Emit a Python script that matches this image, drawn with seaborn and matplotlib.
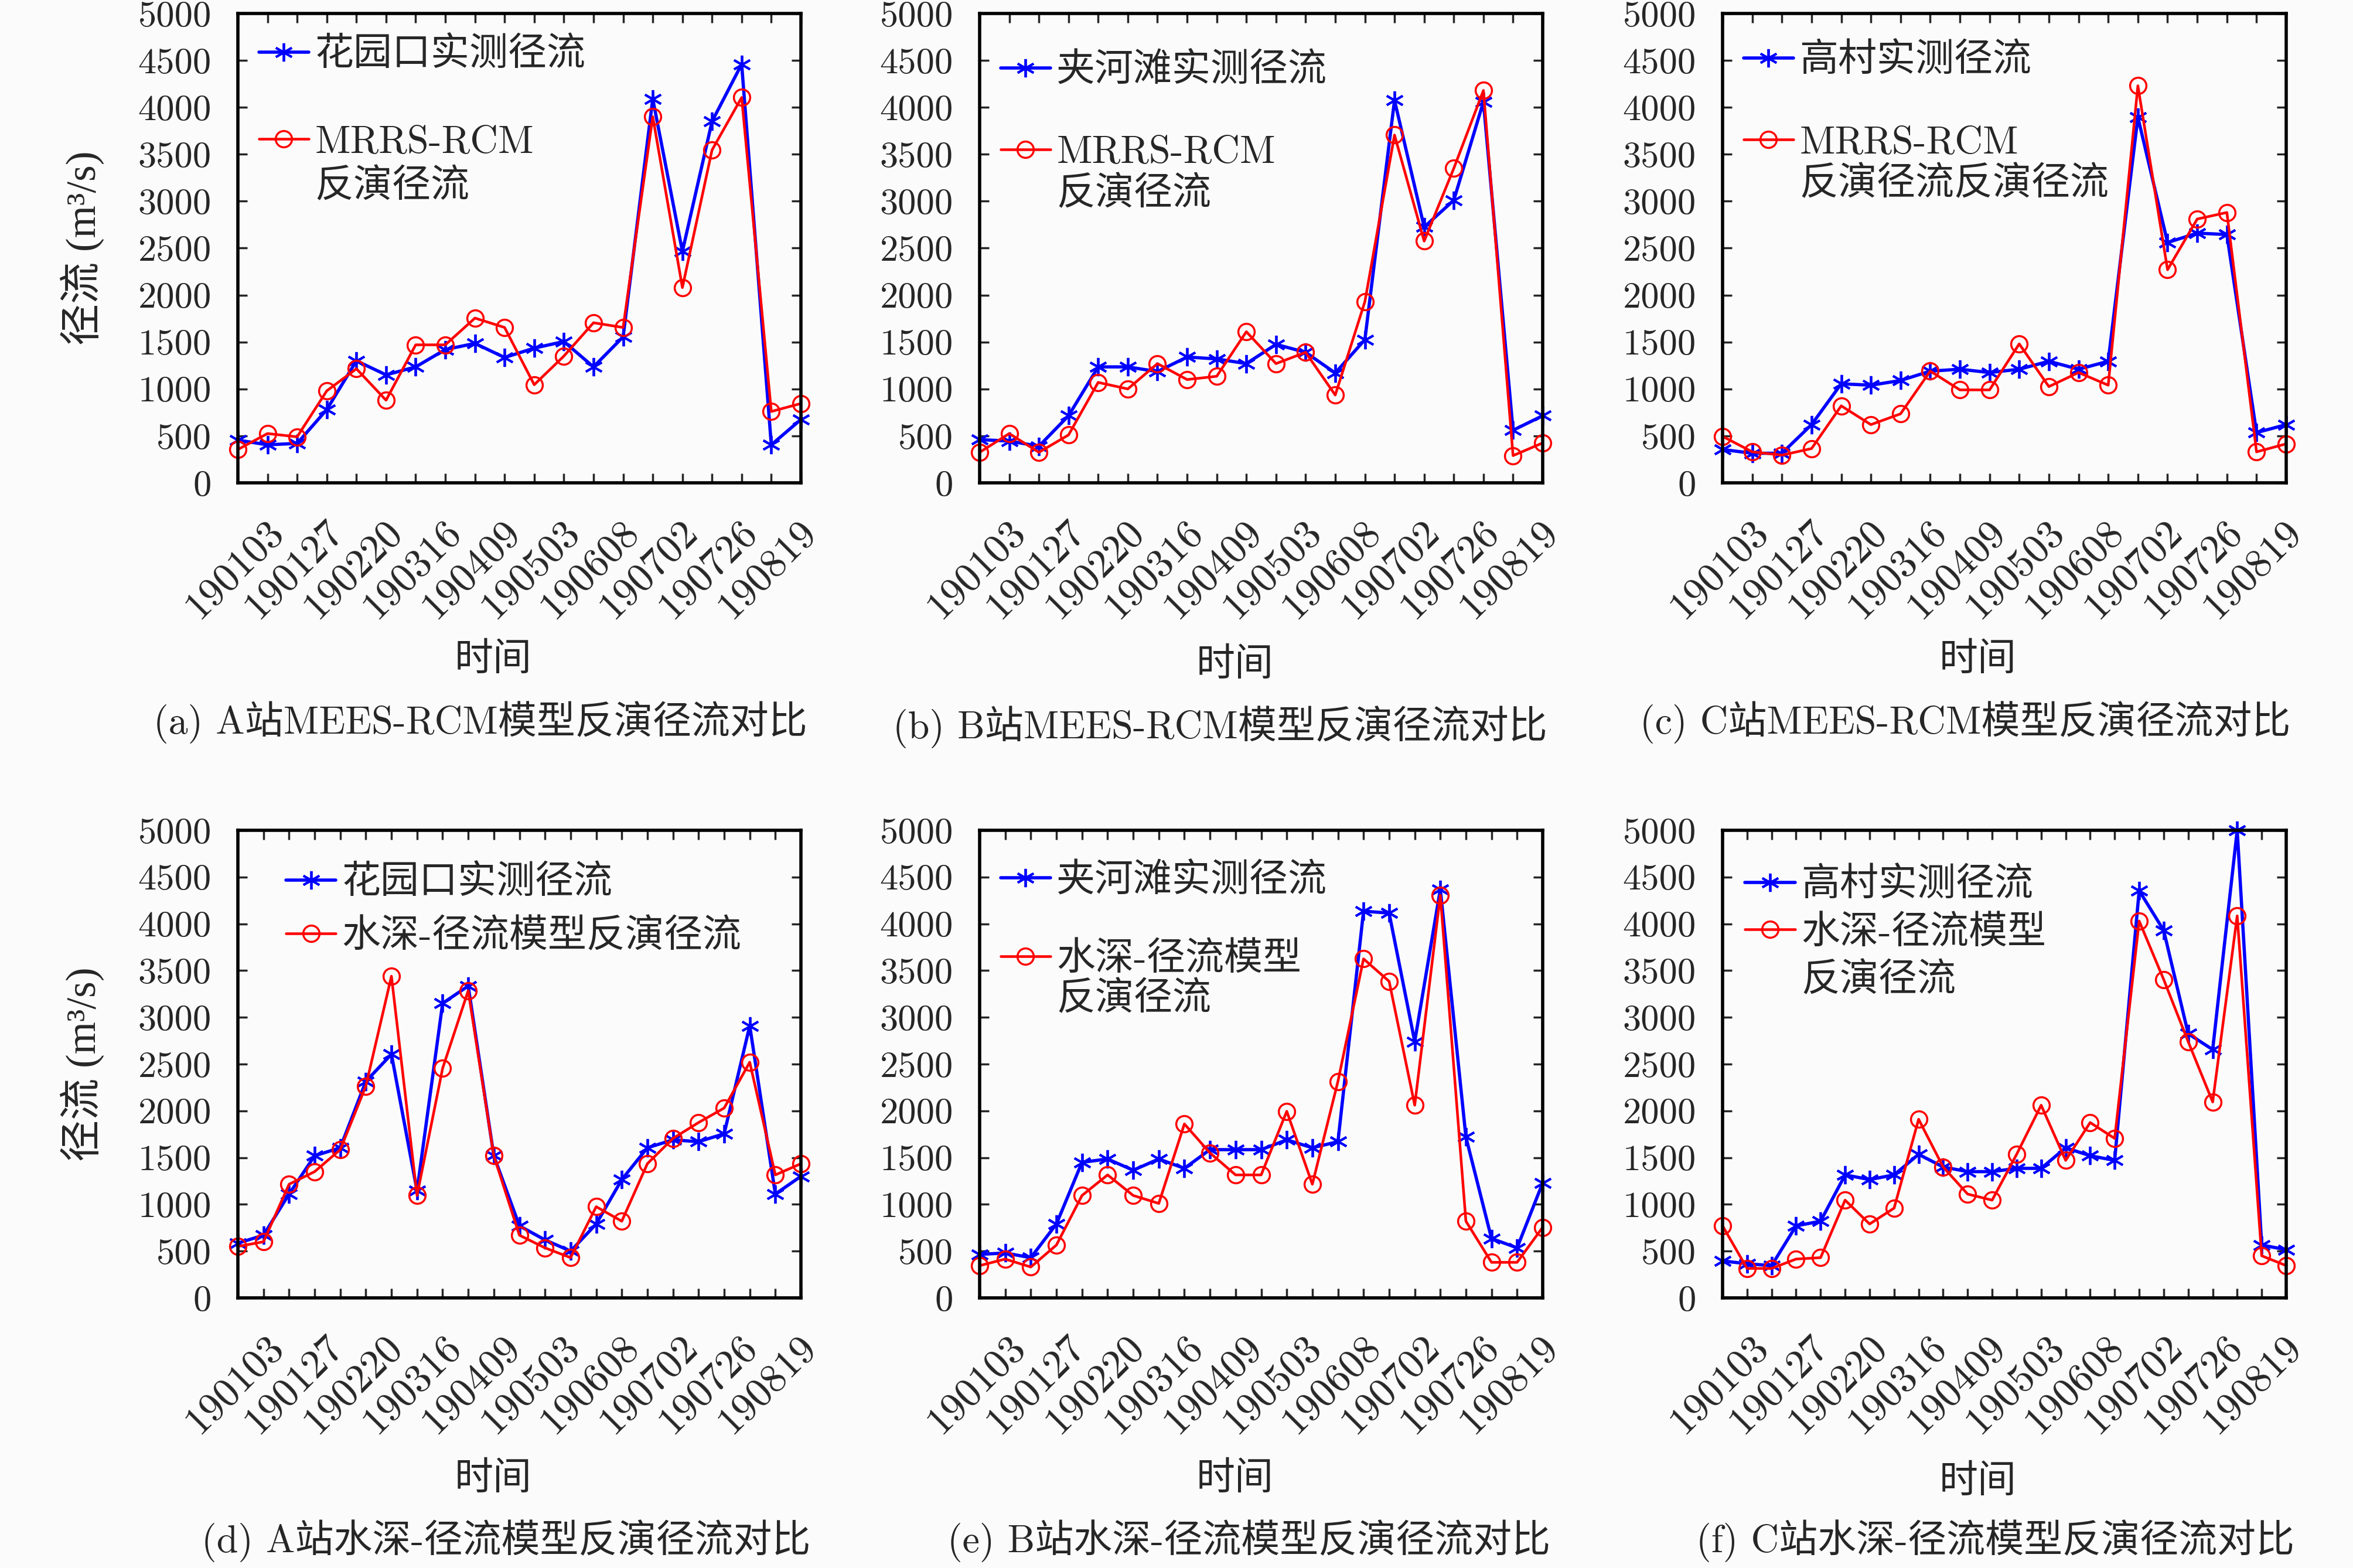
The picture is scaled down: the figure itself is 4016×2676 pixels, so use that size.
import numpy as np
import pandas as pd
import matplotlib
matplotlib.use("Agg")
import matplotlib.pyplot as plt
from matplotlib.ticker import FixedLocator
from matplotlib.lines import Line2D
import seaborn as sns

# ---------------- data ----------------
date_labels = ['190103', '190127', '190220', '190316', '190409',
               '190503', '190608', '190702', '190726', '190819']
y_ticks = [0, 500, 1000, 1500, 2000, 2500, 3000, 3500, 4000, 4500, 5000]

blue_a = [455, 405, 420, 780, 1300, 1150, 1235, 1420, 1485, 1335, 1435, 1505, 1235, 1555, 4090, 2465, 3850, 4460, 405, 675]
red_a = [355, 525, 490, 980, 1215, 880, 1470, 1470, 1755, 1655, 1045, 1350, 1705, 1655, 3900, 2080, 3545, 4105, 760, 845]

blue_b = [460, 445, 390, 715, 1235, 1235, 1185, 1340, 1320, 1270, 1475, 1390, 1170, 1525, 4075, 2725, 3010, 4060, 560, 715]
red_b = [325, 525, 325, 510, 1070, 1000, 1270, 1100, 1135, 1610, 1270, 1390, 935, 1930, 3705, 2575, 3350, 4180, 290, 425]

blue_c = [355, 315, 315, 620, 1055, 1040, 1090, 1190, 1210, 1175, 1210, 1295, 1210, 1295, 3895, 2560, 2660, 2645, 535, 620]
red_c = [495, 330, 295, 365, 820, 620, 735, 1190, 990, 990, 1480, 1025, 1175, 1040, 4230, 2270, 2810, 2880, 330, 415]

blue_d = [585, 670, 1110, 1520, 1605, 2315, 2605, 1145, 3150, 3335, 1520, 770, 620, 500, 790, 1265, 1605, 1690, 1670, 1755, 2910, 1110, 1300]
red_d = [550, 600, 1215, 1350, 1585, 2265, 3440, 1095, 2455, 3285, 1520, 670, 535, 430, 975, 820, 1435, 1705, 1875, 2030, 2520, 1315, 1435]

blue_e = [465, 480, 430, 790, 1450, 1485, 1365, 1485, 1385, 1585, 1585, 1585, 1690, 1605, 1670, 4135, 4115, 2740, 4370, 1720, 635, 535, 1230]
red_e = [345, 415, 330, 565, 1095, 1315, 1095, 1010, 1860, 1550, 1315, 1315, 1995, 1215, 2315, 3625, 3385, 2060, 4305, 820, 380, 380, 755]

blue_f = [395, 365, 345, 770, 820, 1315, 1265, 1315, 1535, 1400, 1350, 1350, 1385, 1385, 1605, 1520, 1470, 4355, 3930, 2825, 2655, 5000, 565, 515]
red_f = [770, 315, 315, 415, 430, 1045, 790, 960, 1910, 1400, 1110, 1045, 1535, 2060, 1470, 1875, 1705, 4030, 3405, 2740, 2095, 4085, 450, 345]

obs_names = ['花园口实测径流', '夹河滩实测径流', '高村实测径流',
             '花园口实测径流', '夹河滩实测径流', '高村实测径流']
model_names = ['MRRS-RCM\n反演径流', 'MRRS-RCM\n反演径流', 'MRRS-RCM\n反演径流反演径流',
               '水深-径流模型反演径流', '水深-径流模型\n反演径流', '水深-径流模型\n反演径流']
captions = ['(a) A站MEES-RCM模型反演径流对比', '(b) B站MEES-RCM模型反演径流对比',
            '(c) C站MEES-RCM模型反演径流对比', '(d) A站水深-径流模型反演径流对比',
            '(e) B站水深-径流模型反演径流对比', '(f) C站水深-径流模型反演径流对比']
blues = [blue_a, blue_b, blue_c, blue_d, blue_e, blue_f]
reds = [red_a, red_b, red_c, red_d, red_e, red_f]

# ---------------- style ----------------
sns.set_style('ticks')
plt.rcParams['font.family'] = ['cmr10', 'Noto Sans CJK SC', 'DejaVu Serif']
plt.rcParams['axes.formatter.use_mathtext'] = True
plt.rcParams['mathtext.fontset'] = 'cm'
plt.rcParams['axes.unicode_minus'] = False

BG = '#fbfbfb'
fig = plt.figure(figsize=(16.064, 10.704), dpi=250, facecolor=BG)
W, H = 4016.0, 2676.0
cols = [(406, 1367), (1672, 2633), (2940, 3902)]
rows = [(23, 824), (1417, 2215)]

# legend: x offset, y offset (axes fraction), labelspacing, blank gap after first entry
leg_pos = [(0.037, 0.051, 0.22, True), (0.037, 0.084, 0.15, True), (0.037, 0.064, 0.15, True),
           (0.085, 0.075, 0.45, False), (0.037, 0.070, 0.10, True), (0.040, 0.080, 0.30, False)]
cap_x = [0.431, 0.427, 0.431, 0.476, 0.478, 0.484]
cap_y = [-0.51, -0.52, -0.51, -0.52, -0.52, -0.52]
xl_y = [-0.378, -0.39, -0.378, -0.388, -0.388, -0.395]

for k in range(6):
    r, c = divmod(k, 3)
    l, rr = cols[c]
    t, b = rows[r]
    ax = fig.add_axes([l / W, 1 - b / H, (rr - l) / W, (b - t) / H])
    ax.set_facecolor(BG)
    n = len(blues[k])
    df = pd.DataFrame({'idx': np.arange(n), 'obs': blues[k], 'model': reds[k]})
    sns.lineplot(data=df, x='idx', y='obs', ax=ax, color='#0000ff', lw=1.6,
                 marker=(6, 2, 0), markersize=9, markeredgewidth=1.1,
                 markeredgecolor='#0000ff', label='_obs', clip_on=False)
    sns.lineplot(data=df, x='idx', y='model', ax=ax, color='#ff0000', lw=1.3,
                 marker='o', markersize=8, markerfacecolor='none', markeredgewidth=1.0,
                 markeredgecolor='#ff0000', label='_model', clip_on=False)
    ax.set_xlim(0, n - 1)
    ax.set_ylim(0, 5000)

    # x ticks: tick marks at each sample, labels spread evenly
    lab_pos = [(n - 1) * (0.049 + 0.105 * i) for i in range(len(date_labels))]
    ax.set_xticks(lab_pos)
    ax.set_xticklabels(date_labels, rotation=45, ha='right', va='top',
                       rotation_mode='anchor', fontsize=20)
    ax.xaxis.set_minor_locator(FixedLocator(np.arange(n)))
    ax.tick_params(axis='x', which='major', length=0, pad=15)
    ax.tick_params(axis='x', which='minor', direction='in', length=4.5, width=1,
                   top=True, bottom=True)
    ax.set_yticks(y_ticks)
    ax.set_yticklabels([str(v) for v in y_ticks], fontsize=18)
    ax.tick_params(axis='y', which='major', direction='in', length=4.5, width=1,
                   left=True, right=True, pad=13)
    for s in ax.spines.values():
        s.set_visible(True)
        s.set_linewidth(1.6)
        s.set_color('black')

    ax.set_xlabel('时间', fontsize=19, va='center')
    ax.xaxis.set_label_coords(0.453, xl_y[k])
    if c == 0:
        ax.set_ylabel('径流 (m³/s)', fontsize=20.5, va='center',
                      family=['Liberation Serif', 'Noto Sans CJK SC', 'DejaVu Serif'])
        ax.yaxis.set_label_coords(-0.277, 0.5)
    else:
        ax.set_ylabel('')

    # legend: handle aligned with the first text line of each entry (MATLAB style)
    lines = ax.get_lines()
    blank = Line2D([], [], linestyle='none')
    handles = [lines[0]]
    labels = [obs_names[k]]
    lx, ly, lsp, gap = leg_pos[k]
    if gap:
        handles.append(blank)
        labels.append(' ')
    parts = model_names[k].split('\n')
    handles.append(lines[1])
    labels.append(parts[0])
    for p in parts[1:]:
        handles.append(blank)
        labels.append(p)
    ax.legend(handles, labels, loc='upper left', bbox_to_anchor=(lx, 1 - ly), frameon=False,
              fontsize=19, handlelength=1.3, handletextpad=0.15,
              labelspacing=lsp, borderaxespad=0, borderpad=0)

    ax.text(cap_x[k], cap_y[k], captions[k], transform=ax.transAxes,
            ha='center', va='center', fontsize=19)

fig.savefig('out.png', dpi=250, facecolor=BG)
